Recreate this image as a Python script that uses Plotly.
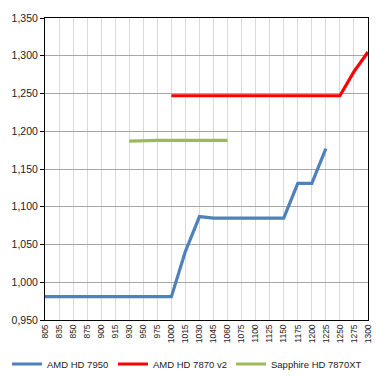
import plotly.graph_objects as go

categories = ["805", "835", "850", "875", "900", "915", "930", "950", "975", "1000",
              "1015", "1030", "1045", "1060", "1075", "1100", "1125", "1150", "1175",
              "1200", "1225", "1250", "1275", "1300"]

amd_7950 = [0.981, 0.981, 0.981, 0.981, 0.981, 0.981, 0.981, 0.981, 0.981, 0.981,
            1.041, 1.087, 1.085, 1.085, 1.085, 1.085, 1.085, 1.085, 1.131,
            1.131, 1.177, None, None, None]

amd_7870_v2 = [None, None, None, None, None, None, None, None, None, 1.247,
               1.247, 1.247, 1.247, 1.247, 1.247, 1.247, 1.247, 1.247, 1.247,
               1.247, 1.247, 1.247, 1.279, 1.305]

sapphire_7870xt = [None, None, None, None, None, None, 1.187, 1.188, 1.188, 1.188,
                   1.188, 1.188, 1.188, 1.188, None, None, None, None, None,
                   None, None, None, None, None]

y_ticks = [0.95, 1.0, 1.05, 1.1, 1.15, 1.2, 1.25, 1.3, 1.35]

fig = go.Figure()
fig.add_trace(go.Scatter(x=categories, y=amd_7950, mode="lines", name="AMD HD 7950",
                         line=dict(color="#4f81bd", width=3.2), connectgaps=False,
                         legend="legend"))
fig.add_trace(go.Scatter(x=categories, y=amd_7870_v2, mode="lines", name="AMD HD 7870 v2",
                         line=dict(color="#ff0000", width=3.2), connectgaps=False,
                         legend="legend2"))
fig.add_trace(go.Scatter(x=categories, y=sapphire_7870xt, mode="lines", name="Sapphire HD 7870XT",
                         line=dict(color="#9bbb59", width=3.2), connectgaps=False,
                         legend="legend3"))

legend_y = 1 - 364 / 378


def leg(xpx):
    return dict(orientation="h", xref="container", x=xpx / 378, xanchor="left",
                yref="container", y=legend_y, yanchor="middle",
                font=dict(size=9.5, color="#222222"), itemwidth=30,
                bgcolor="rgba(0,0,0,0)")


fig.update_layout(
    width=378, height=378,
    margin=dict(l=45, r=10, t=18, b=58, autoexpand=False),
    paper_bgcolor="white", plot_bgcolor="white",
    separators=",.",
    font=dict(family="Liberation Sans, Arial, sans-serif", size=10, color="#222222"),
    showlegend=True,
    legend=leg(7), legend2=leg(113), legend3=leg(231),
)
fig.update_xaxes(
    type="category", categoryorder="array", categoryarray=categories,
    range=[0, len(categories) - 1], tickangle=-90, automargin=False,
    showgrid=True, gridcolor="#d9d9d9", gridwidth=1,
    showline=True, linecolor="black", linewidth=1, mirror=True,
    ticks="", tickfont=dict(size=8.5), fixedrange=True,
)
fig.update_yaxes(
    range=[0.95, 1.35], tickvals=y_ticks, tickformat=".3f", automargin=False,
    showgrid=True, gridcolor="#a6a6a6", gridwidth=1,
    showline=True, linecolor="black", linewidth=1, mirror=True,
    ticks="outside", ticklen=4, tickcolor="black", tickfont=dict(size=10.5),
    zeroline=False, fixedrange=True,
)

fig.write_html("out.html", config={"displayModeBar": False},
               post_script="document.body.style.margin='0';")
